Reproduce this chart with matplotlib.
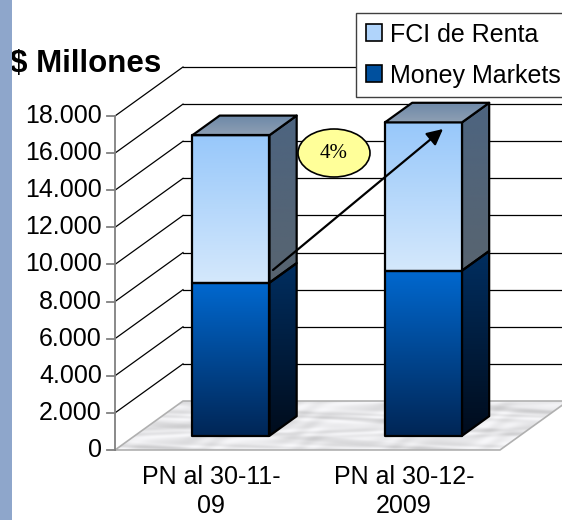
import numpy as np
import matplotlib
matplotlib.use('Agg')
import matplotlib.pyplot as plt
from matplotlib.patches import Polygon, Rectangle, Ellipse, Patch
from matplotlib.colors import to_rgb

# ---------------- data ----------------
categories = ['PN al 30-11-\n09', 'PN al 30-12-\n2009']
money_markets = [8250, 8900]
fci_renta = [7950, 7990]
series_names = ['FCI de Renta', 'Money Markets']
ytick_values = [0, 2000, 4000, 6000, 8000, 10000, 12000, 14000, 16000, 18000]
ytick_labels = ['0', '2.000', '4.000', '6.000', '8.000', '10.000', '12.000',
                '14.000', '16.000', '18.000']
growth_label = '4%'
y_title = '\\$ Millones'

plt.rcParams['font.family'] = ['Liberation Sans', 'DejaVu Sans']

W, H = 562, 520
fig = plt.figure(figsize=(W / 100, H / 100), dpi=100)
fig.patch.set_facecolor('white')
ax = fig.add_axes([0, 0, 1, 1])
ax.axis('off')

# projection scales (front plane)
px_per_cat = 192.5
x0_px = 115
px_per_val = 334 / 18000
y0_px = 450
DX = 68 / px_per_cat          # depth offset in category units
DY = 49 / px_per_val          # depth offset in value units
ncat = len(categories)
vmax = ytick_values[-1]


def grad_poly(verts, c_bot, c_top, z):
    verts = np.asarray(verts)
    patch = Polygon(verts, closed=True, fc='none', ec='none')
    ax.add_patch(patch)
    n = 64
    cb, ct = np.array(to_rgb(c_bot)), np.array(to_rgb(c_top))
    t = np.linspace(0, 1, n)[:, None]
    img = (cb * (1 - t) + ct * t)[:, None, :]
    im = ax.imshow(img, extent=[verts[:, 0].min(), verts[:, 0].max(),
                                verts[:, 1].min(), verts[:, 1].max()],
                   origin='lower', aspect='auto', zorder=z, interpolation='bilinear')
    im.set_clip_path(patch)
    ax.add_patch(Polygon(verts, closed=True, fc='none', ec='black', lw=1.6, zorder=z + 0.1,
                         joinstyle='round'))


# left slide strip
fig.patches.append(Rectangle((0, 0), 12 / W, 1, transform=fig.transFigure,
                             fc='#8ea6cb', ec='none', zorder=0))

# floor
floor = [(0, 0), (ncat, 0), (ncat + DX, DY), (DX, DY)]
fpatch = Polygon(floor, closed=True, fc='none', ec='none')
ax.add_patch(fpatch)
xx, yy = np.meshgrid(np.linspace(0, 1, 300), np.linspace(0, 1, 60))
tex = 0.915 + 0.03 * np.sin(23 * xx + 7 * np.sin(9 * yy) + 4 * yy) \
    + 0.025 * np.sin(61 * xx - 19 * yy + 2 * np.sin(30 * xx)) \
    - 0.06 * np.clip(np.sin(11 * xx + 13 * yy) - 0.6, 0, 1) / 0.4
tex = np.clip(tex, 0, 1)
fim = ax.imshow(np.dstack([tex, tex, tex * 1.01]).clip(0, 1), extent=[0, ncat + DX, 0, DY],
                origin='lower', aspect='auto', zorder=1, interpolation='bilinear')
fim.set_clip_path(fpatch)
ax.add_patch(Polygon(floor, closed=True, fc='none', ec='#b0b0b0', lw=1.2, zorder=1.1))

# back wall and left wall gridlines
for v in ytick_values[1:]:
    ax.plot([DX, ncat + DX], [v + DY, v + DY], color='black', lw=0.9, zorder=0.5)
    ax.plot([0, DX], [v, v + DY], color='black', lw=0.9, zorder=0.5)

# front value axis
ax.plot([0, 0], [0, vmax], color='#808080', lw=1.3, zorder=2)
for v, lab in zip(ytick_values, ytick_labels):
    ax.plot([-8 / px_per_cat, 0], [v, v], color='#808080', lw=1.3, zorder=2)
    ax.text(-13 / px_per_cat, v, lab, ha='right', va='center', fontsize=18, zorder=3)

ax.text(-105 / px_per_cat, (y0_px - 72) / px_per_val, y_title, fontsize=22.5,
        fontweight='bold', va='baseline', ha='left', zorder=3)

# bars
bw = 0.4
f0 = 0.29
fd = 0.40
z = 3
for i in range(ncat):
    cx = i + 0.5
    xl = cx - bw / 2 + f0 * DX
    xr = xl + bw
    yb = f0 * DY
    segs = [(0, money_markets[i], ('#002656', '#0068cf'), ('#000c1c', '#002e60')),
            (money_markets[i], money_markets[i] + fci_renta[i], ('#d4e8fc', '#98c8fa'),
             ('#586470', '#4d6480'))]
    for lo, hi, fcols, scols in segs:
        side = [(xr, yb + lo), (xr + fd * DX, yb + lo + fd * DY),
                (xr + fd * DX, yb + hi + fd * DY), (xr, yb + hi)]
        grad_poly(side, scols[0], scols[1], z)
        front = [(xl, yb + lo), (xr, yb + lo), (xr, yb + hi), (xl, yb + hi)]
        grad_poly(front, fcols[0], fcols[1], z + 0.2)
    top = money_markets[i] + fci_renta[i]
    topf = [(xl, yb + top), (xr, yb + top), (xr + fd * DX, yb + top + fd * DY),
            (xl + fd * DX, yb + top + fd * DY)]
    grad_poly(topf, '#8e9fb3', '#6c88a8', z + 0.3)
    z += 1

# category labels
for i, lab in enumerate(categories):
    ax.text(i + 0.5, (y0_px - 465) / px_per_val, lab, ha='center', va='top',
            fontsize=18, linespacing=1.25, zorder=3)

# growth arrow
ax.annotate('', xy=((443 - x0_px) / px_per_cat, (y0_px - 129) / px_per_val),
            xytext=((273 - x0_px) / px_per_cat, (y0_px - 270) / px_per_val),
            arrowprops=dict(arrowstyle='-|>', color='black', lw=1.6, mutation_scale=24,
                            shrinkA=0, shrinkB=0), zorder=8)

ecx, ecy = (334 - x0_px) / px_per_cat, (y0_px - 153) / px_per_val
ax.add_patch(Ellipse((ecx, ecy), 72 / px_per_cat, 48 / px_per_val, fc='#ffff99',
                     ec='black', lw=1.2, zorder=9))
ax.text(ecx, ecy, growth_label, ha='center', va='center', fontsize=15,
        family=['Liberation Serif', 'DejaVu Serif'], zorder=10)

# legend
handles = [Patch(fc='#b0d4fb', ec='black', lw=1.2), Patch(fc='#00509e', ec='black', lw=1.2)]
leg = ax.legend(handles, series_names, loc='upper left', bbox_to_anchor=(356 / W, 1 - 13 / H),
                bbox_transform=fig.transFigure, fontsize=18, frameon=True, fancybox=False,
                edgecolor='#404040', framealpha=1, handlelength=0.65, handleheight=0.65,
                handletextpad=0.35, borderpad=0.38, labelspacing=0.68, borderaxespad=0)
leg.get_frame().set_linewidth(1.0)
leg.set_zorder(20)

ax.set_xlim(-x0_px / px_per_cat, (W - x0_px) / px_per_cat)
ax.set_ylim((y0_px - H) / px_per_val, y0_px / px_per_val)

fig.savefig('out.png', dpi=100)
